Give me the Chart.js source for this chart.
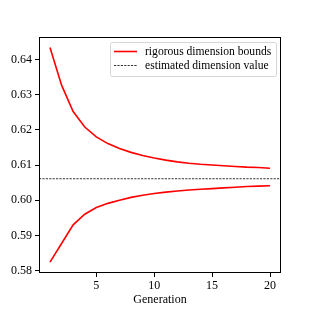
<!DOCTYPE html>
<html>
<head>
<meta charset="utf-8">
<script src="https://cdn.jsdelivr.net/npm/chart.js@4"></script>
<style>
  html, body { margin: 0; padding: 0; background: #fff; }
  #wrap { width: 313px; height: 313px; }
</style>
</head>
<body>
<div id="wrap"><canvas id="dim-chart" width="313" height="313"></canvas></div>
<script>
const generations = [1, 2, 3, 4, 5, 6, 7, 8, 9, 10, 11, 12, 13, 14, 15, 16, 17, 18, 19, 20];
const upperBound = [0.6434, 0.6327, 0.6252, 0.6208, 0.6180, 0.6161, 0.6147, 0.6136, 0.6127, 0.6120,
                    0.6114, 0.6109, 0.6105, 0.6102, 0.6100, 0.6098, 0.6096, 0.6094, 0.6093, 0.6091];
const lowerBound = [0.5824, 0.5877, 0.5930, 0.5960, 0.5979, 0.5991, 0.6000, 0.6008, 0.6014, 0.6019,
                    0.6023, 0.6026, 0.6029, 0.6031, 0.6033, 0.6035, 0.6037, 0.6039, 0.6040, 0.6041];
const estimatedValue = 0.6061;
const xTicks = [5, 10, 15, 20];
const yTicks = [0.58, 0.59, 0.60, 0.61, 0.62, 0.63, 0.64];
const xLimits = [0.05, 20.95];
const yLimits = [0.5793, 0.6464];
const boundsLabel = 'rigorous dimension bounds';
const estimateLabel = 'estimated dimension value';

const FONT = '"Liberation Serif", "DejaVu Serif", serif';

function pts(ys) {
    return generations.map((g, i) => ({x: g, y: ys[i]}));
}

// frame around the axes + legend box inside top right
const framePlugin = {
    id: 'frame',
    afterDraw(chart) {
        const ctx = chart.ctx;
        const a = chart.chartArea;
        ctx.save();
        ctx.strokeStyle = '#000';
        ctx.lineWidth = 1;
        ctx.strokeRect(a.left + 0.5, a.top + 0.5, a.right - a.left - 1, a.bottom - a.top - 1);

        // legend
        const bx = a.right - 171, by = a.top + 5, bw = 166, bh = 34;
        ctx.fillStyle = 'rgba(255,255,255,0.8)';
        ctx.strokeStyle = '#d6d6d6';
        ctx.lineWidth = 1;
        ctx.beginPath();
        ctx.roundRect(bx + 0.5, by + 0.5, bw, bh, 2);
        ctx.fill();
        ctx.stroke();

        const items = [
            {label: boundsLabel, color: 'red', width: 1.6, dash: []},
            {label: estimateLabel, color: '#000', width: 0.8, dash: [2.2, 1.2]}
        ];
        ctx.font = '11.6px ' + FONT;
        ctx.textBaseline = 'middle';
        items.forEach((it, i) => {
            const y = by + 9.5 + i * 14;
            ctx.beginPath();
            ctx.setLineDash(it.dash);
            ctx.strokeStyle = it.color;
            ctx.lineWidth = it.width;
            ctx.moveTo(bx + 4, y);
            ctx.lineTo(bx + 27, y);
            ctx.stroke();
            ctx.setLineDash([]);
            ctx.fillStyle = '#000';
            ctx.fillText(it.label, bx + 35, y);
        });
        ctx.restore();
    }
};

const lineStyle = {
    borderColor: 'red',
    borderWidth: 1.6,
    pointRadius: 0,
    fill: false,
    tension: 0
};

new Chart(document.getElementById('dim-chart'), {
    type: 'line',
    data: {
        datasets: [
            Object.assign({label: boundsLabel, data: pts(upperBound)}, lineStyle),
            Object.assign({label: boundsLabel, data: pts(lowerBound)}, lineStyle),
            {
                label: estimateLabel,
                data: [{x: xLimits[0], y: estimatedValue}, {x: xLimits[1], y: estimatedValue}],
                borderColor: '#000',
                borderWidth: 0.8,
                borderDash: [2.2, 1.2],
                pointRadius: 0,
                fill: false
            }
        ]
    },
    options: {
        responsive: false,
        animation: false,
        layout: {padding: {top: 37, right: 32, left: 0, bottom: 0}},
        plugins: {
            legend: {display: false},
            tooltip: {enabled: false}
        },
        scales: {
            x: {
                type: 'linear',
                min: xLimits[0],
                max: xLimits[1],
                afterBuildTicks: s => { s.ticks = xTicks.map(v => ({value: v})); },
                afterFit: s => { s.height = 40; },
                grid: {drawOnChartArea: false, tickLength: 4, tickColor: '#000', color: '#000'},
                border: {display: false},
                ticks: {color: '#000', padding: 2, maxRotation: 0, font: {family: FONT, size: 12}},
                title: {display: true, text: 'Generation', color: '#000', padding: {top: 0, bottom: 6},
                        font: {family: FONT, size: 12}}
            },
            y: {
                min: yLimits[0],
                max: yLimits[1],
                afterBuildTicks: s => { s.ticks = yTicks.map(v => ({value: v})); },
                afterFit: s => { s.width = 39; },
                grid: {drawOnChartArea: false, tickLength: 4, tickColor: '#000', color: '#000'},
                border: {display: false},
                ticks: {color: '#000', padding: 3, font: {family: FONT, size: 12},
                        callback: v => v.toFixed(2)}
            }
        }
    },
    plugins: [framePlugin]
});
</script>
</body>
</html>
